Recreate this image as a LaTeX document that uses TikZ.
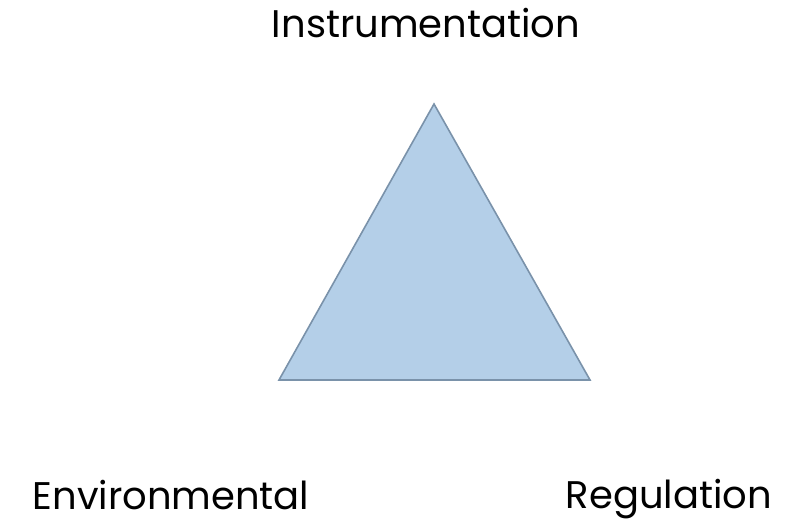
\documentclass[tikz,border=0pt]{standalone}
\usepackage{fontspec}
\setmainfont{Poppins}
\definecolor{trifill}{HTML}{B4CFE8}
\definecolor{triedge}{HTML}{7A92AA}
\begin{document}
\begin{tikzpicture}[x=1pt,y=1pt,
  lbl/.style={font=\fontsize{38.5}{44}\selectfont, inner sep=0pt, anchor=base}]
\useasboundingbox (0,0) rectangle (793,526);
\coordinate (apex) at (434,422);
\coordinate (bl) at (279,146);
\coordinate (br) at (590,146);
\draw[triedge, fill=trifill, line width=1.6pt, line join=miter] (apex) -- (bl) -- (br) -- cycle;
\node[lbl] (instr) at (426,488) {Instrumentation};
\node[lbl] (env) at (171,16) {Environmental};
\node[lbl] (reg) at (669,17) {Regulation};
\end{tikzpicture}
\end{document}
